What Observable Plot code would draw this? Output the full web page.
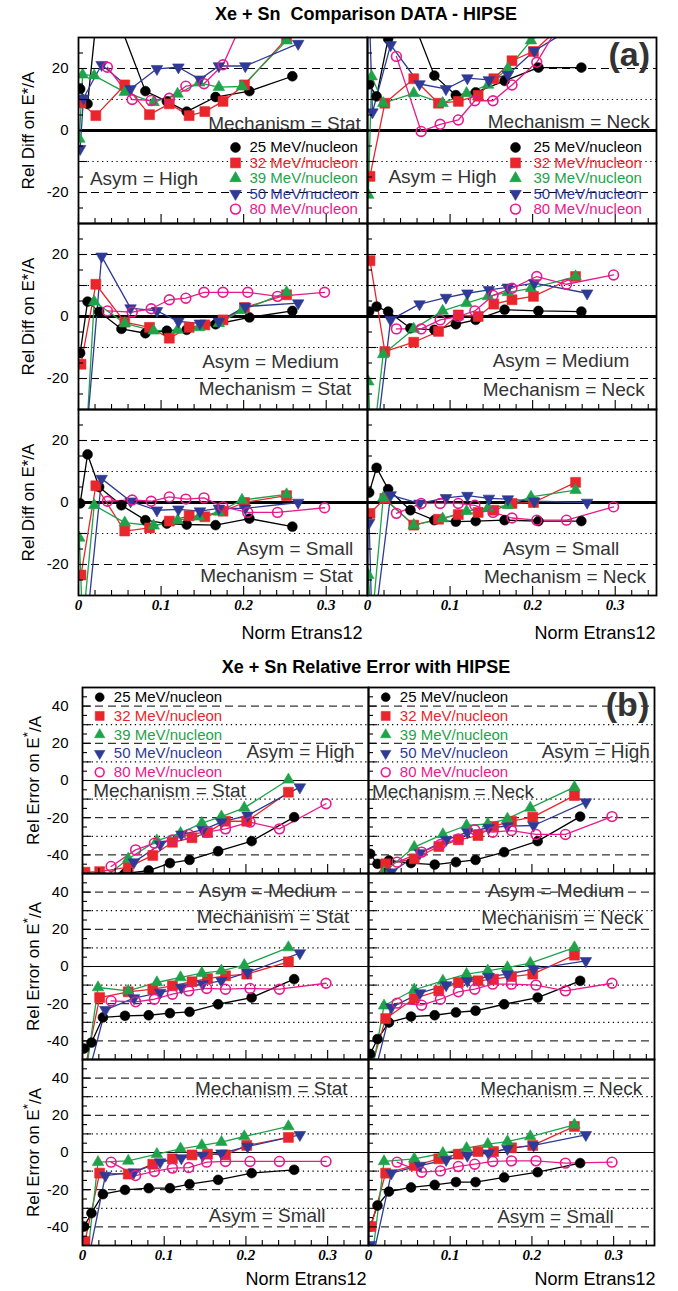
<!DOCTYPE html>
<html><head><meta charset="utf-8">
<script src="https://cdn.jsdelivr.net/npm/d3@7"></script>
<script src="https://cdn.jsdelivr.net/npm/@observablehq/plot@0.6"></script>
<style>
body{margin:0;background:#fff;}
#root{position:relative;width:678px;height:1291px;overflow:hidden;font-family:"Liberation Sans",Arial,sans-serif;background:#fff;}
.title{position:absolute;left:27px;width:678px;text-align:center;font-weight:bold;font-size:18px;color:#000;line-height:20px;white-space:pre;}
.plot{position:absolute;left:0;}
.plot g[aria-label="x-axis tick label"]{font:italic bold 15px "Liberation Serif",serif;}
.plot g[aria-label="y-axis tick label"]{font:15px "Liberation Sans",Arial,sans-serif;}
</style></head><body><div id="root"></div><script>
// ---------------- data ----------------
const energies = ["25 MeV/nucleon","32 MeV/nucleon","39 MeV/nucleon","50 MeV/nucleon","80 MeV/nucleon"];
const mechanisms = ["Stat","Neck"];
const asymmetries = ["High","Medium","Small"];
const xTickLabels = [0, 0.1, 0.2, 0.3];
const yTicksDiff = [-20, 0, 20];
const yTicksErr = [-40, -20, 0, 20, 40];

// mean Norm Etrans12 of each bin, per beam energy
const xE25 = [0.002, 0.011, 0.025, 0.052, 0.081, 0.107, 0.131, 0.166, 0.207, 0.259];
const xE32 = [0.003, 0.021, 0.056, 0.086, 0.110, 0.134, 0.153, 0.175, 0.201, 0.252];
const xE39 = [0.001, 0.005, 0.019, 0.056, 0.091, 0.120, 0.146, 0.170, 0.198, 0.252];
const xE50 = [0.002, 0.006, 0.028, 0.063, 0.095, 0.121, 0.147, 0.170, 0.202, 0.266];
const xE80 = [0.035, 0.065, 0.088, 0.110, 0.130, 0.152, 0.175, 0.205, 0.241, 0.298];

// (a) Rel Diff on E*/A  (rows: 25, 32, 39, 50, 80 MeV/nucleon)
const diffHighStat = [
 [13.4, 8.6, 45, 33, 12.7, 9.4, 6.1, 10.8, 12.7, 17.5],
 [8.9, 4.8, 14.7, 5.1, 8.6, 4.8, 6.1, 9.4, 14.7, 29.7],
 [-2.7, 18, 17.7, 12.4, 9.1, 11.8, 15.4, 14, 14.2, 29],
 [-5.9, 10.4, 21.2, 13.4, 19.9, 20.4, 16.5, 20.8, 20.8, 28],
 [20.4, 10, 9.7, 10.4, 14.3, 15.1, 21.2, 39, 45, 50]];
const diffHighNeck = [
 [14.9, 11, 29.6, 37.5, 17.7, 11.4, 12.3, 16, 20.3, 20.3],
 [-14.8, 8.8, 16.7, 8.8, 9.4, 11.3, 16.7, 22.5, 25.5, 38],
 [-20.8, 17.4, 8.8, 12, 8.8, 12, 14.7, 20, 29, 40],
 [40, 5.9, 27.6, 15, 13.4, 16.9, 16.3, 18, 25.7, 36],
 [23.9, -0.3, 2, 3.4, 9.6, 9.6, 14.7, 22, 38, 45]];
const diffMediumStat = [
 [-11.8, 4.8, 1.5, -4, -5.4, -4.6, -4.3, -2.5, -0.3, 1.8],
 [-15.4, 10.4, -1.8, -3.5, -7, -3.5, -2.7, -1.1, 2.9, 7],
 [-50, -60, 4.8, -2.2, -4.6, -4.3, -3.5, -2.2, 2, 7.8],
 [-60, -50, 19.4, 2.7, 1.8, -1.6, -2.2, -1.6, 3.2, 4.3],
 [1.8, 1.4, 2.5, 5.4, 5.9, 7.8, 7.8, 7.8, 6.5, 7.8]];
const diffMediumNeck = [
 [1.6, 3.2, 1.6, -3.8, -4.3, -2.5, -1.1, 2.2, 1.8, 1.6],
 [18, -11.3, -8.3, -4.8, 0.5, 0, 4, 5.4, 6.5, 12.9],
 [-21, -45, -12.2, -4, 1.8, 4.3, 6.5, 7.8, 9.1, 12.9],
 [-40, -50, -1.1, 4, 6.1, 7.5, 8.6, 9.4, 10.8, 7.5],
 [-4, -4, -1.1, 0, 1.8, 6.8, 9.1, 12.9, 10.4, 13.4]];
const diffSmallStat = [
 [-0.3, 15.5, 5, -0.9, -5.7, -6.8, -7.1, -7.3, -5.2, -7.8],
 [-23.4, 5.4, -9.2, -8.2, -6, -4.3, -4.6, -2.8, 0, 2.2],
 [-11.4, -40, -0.9, -6.5, -7.5, -5.7, -4.6, -3, 0.8, 2.6],
 [-40, -50, 7.7, 0.4, -2.5, -2.2, -2.8, -1.9, -1.9, 0],
 [0.4, 0.8, 0.4, 1.8, 1.1, 1.5, -1.4, -3.2, -3.2, -1.7]];
const diffSmallNeck = [
 [3.2, 11.2, 4.3, -2.5, -5.7, -6.2, -6, -5.7, -6, -6],
 [-3.5, 1.3, -7.3, -5.4, -3.9, -3.2, -2.5, -0.3, 0, 6.5],
 [-23.4, -40, 1.5, -7.3, -5.2, -2.8, -1.7, -0.9, 1.8, 4],
 [-6.5, -45, 2.4, -0.3, 1.5, 2.2, 1.3, 1.1, 0.4, 0],
 [-3.5, -0.3, -0.3, -0.3, -0.9, -3.2, -5, -5.7, -5.7, -1.4]];

// (b) Rel Error on E*/A
const errHighStat = [
 [-60, -58, -52, -50, -48.4, -44.4, -42.7, -38, -32.6, -19.7],
 [-49.3, -49, -46.6, -40.3, -33.2, -30.8, -28, -21.9, -21.9, -6.3],
 [-60, -60, -55, -42.1, -32.3, -28.3, -22.9, -19.4, -14.7, 0.4],
 [-60, -60, -55, -43.9, -34.4, -29, -26.5, -22.4, -18.8, -3.6],
 [-46.2, -37.3, -33.7, -31.9, -29, -27.8, -26, -22.4, -26, -12.5]];
const errHighNeck = [
 [-39.4, -44.8, -43, -44.4, -45.2, -43.9, -42.7, -38.5, -32.6, -19.4],
 [-55, -44.8, -42.1, -35.5, -31.9, -29.6, -24.7, -21.9, -19.7, -8.1],
 [-60, -55, -49.3, -35.8, -29, -24.2, -23.3, -20.6, -14.7, -3.6],
 [-60, -55, -49.3, -39, -31.9, -27.8, -25.4, -24.5, -24.2, -11.6],
 [-43.9, -38.5, -34.4, -31.4, -26.5, -27.8, -26.9, -29, -29, -19.4]];
const errMediumStat = [
 [-44.1, -40.9, -27.4, -26.5, -26.2, -25.1, -24.4, -20.3, -16.7, -6.8],
 [-55, -16.7, -13.6, -12.2, -10.4, -8.2, -6.5, -5, -4.1, 2.5],
 [-60, -55, -11.3, -13.1, -8.6, -5.9, -3.6, -2.3, 0.7, 10.2],
 [-60, -60, -23.3, -17, -14, -11.3, -9.5, -7.7, -3.2, 7.2],
 [-18.5, -19, -17.6, -14.9, -13.1, -11.8, -12.2, -11.8, -12.2, -9]];
const errMediumNeck = [
 [-47, -39, -30.1, -26.9, -26.2, -24.7, -23.8, -20.3, -16.7, -7.7],
 [-55, -28, -17.2, -13.1, -8.6, -7.7, -6.8, -5.4, -4.1, 6.1],
 [-60, -55, -21.1, -12.5, -7.7, -4.1, -2.3, -0.5, 1.8, 10.2],
 [-60, -60, -22, -14.3, -10, -7.7, -5.5, -4.1, -1.4, 3],
 [-19.7, -20.8, -17.6, -13.6, -12.2, -9.5, -9.5, -10, -13.1, -9]];
const errSmallStat = [
 [-39.8, -32.6, -22.4, -20.1, -19.2, -19.2, -17, -14.7, -11.1, -9.3],
 [-47.8, -11.1, -11.6, -6.3, -3.4, -1.3, -0.9, -1.3, 3.8, 8.1],
 [-60, -60, -5.2, -4.5, -0.9, 2, 3.8, 5.6, 8.6, 14],
 [-60, -60, -12.4, -10.6, -5.2, -3, -1.6, -0.4, 3.2, 9.5],
 [-5.2, -12.4, -10.2, -8.4, -8.1, -5.2, -4.8, -4.8, -4.8, -4.8]];
const errSmallNeck = [
 [-39.8, -28.5, -21, -18.8, -17.4, -15.9, -15.9, -13.4, -10.6, -5.7],
 [-39.8, -11.1, -7, -3.4, -0.9, 0.5, 0.5, 2.5, 3.8, 14],
 [-60, -55, -4.8, -3.4, -0.4, 2.3, 4.5, 5.9, 8.6, 14.9],
 [-49.6, -55, -11.1, -7, -3.9, -1.6, -0.4, 2, 3.8, 9.5],
 [-5.2, -10.6, -9.9, -7.5, -6.3, -4.8, -4.5, -4.5, -5.7, -5.2]];

// ---------------- styling ----------------
const W = 678;
const xByEnergy = [xE25, xE32, xE39, xE50, xE80];
const colors = ["#000000", "#e8262b", "#1ea34a", "#2e3a96", "#e8198c"];
const triDown = {draw(ctx, size){const y=Math.sqrt(size/(3*Math.sqrt(3)));ctx.moveTo(0,2*y);ctx.lineTo(-Math.sqrt(3)*y,-y);ctx.lineTo(Math.sqrt(3)*y,-y);ctx.closePath();}};
const symbols = ["circle","square","triangle",triDown,"circle"];
const filled = [true,true,true,true,false];
const radii = [4.9, 5.6, 4.3, 4.3, 4.9];
const textGray = "#333";
const FONT = "Liberation Sans, Arial, sans-serif";

function panelText(mech, asym, text, dx, dy, o = {}) {
  return Plot.text([text], {fx: () => mech, fy: () => asym, frameAnchor: "top-left", dx, dy,
    text: d => d, textAnchor: o.anchor || "middle", lineAnchor: "middle", fontSize: o.size || 19, fontWeight: o.weight || "normal",
    fill: o.fill || textGray, fontFamily: FONT});
}

function buildSection(cfg) {
  const facetW = (W - cfg.ml - cfg.mr) / 2;
  const H = cfg.mt + 3 * cfg.rowH + cfg.mb;
  const [y0, y1] = cfg.yDomain;
  const pxX = facetW / 0.35, pxY = cfg.rowH / (y1 - y0);
  const rows = [];
  cfg.panels.forEach(p => p.values.forEach((ys, i) => ys.forEach((y, j) =>
    rows.push({asym: p.asym, mech: p.mech, e: i, x: xByEnergy[i][j], y}))));
  const marks = [
    Plot.ruleY(cfg.dashed, {stroke: "#000", strokeWidth: 1, strokeDasharray: "8,5"}),
    Plot.ruleY(cfg.dotted, {stroke: "#000", strokeWidth: 1.2, strokeDasharray: "1.3,3.5"}),
    Plot.ruleY([0], {stroke: "#000", strokeWidth: cfg.zeroWidth})
  ];
  energies.forEach((name, i) => {
    const d = rows.filter(r => r.e === i);
    marks.push(Plot.line(d, {x: "x", y: "y", fx: "mech", fy: "asym", stroke: colors[i], strokeWidth: 1.3, clip: true}));
  });
  energies.forEach((name, i) => {
    const d = rows.filter(r => r.e === i);
    marks.push(Plot.dot(d, {x: "x", y: "y", fx: "mech", fy: "asym", symbol: symbols[i], r: radii[i],
      fill: filled[i] ? colors[i] : "none", stroke: colors[i], strokeWidth: filled[i] ? 0.6 : 1.6, clip: true}));
  });
  const xt = d3.range(0, 0.3501, 0.02).map(v => +v.toFixed(2));
  const yt = d3.range(y0 + 5, y1, 5);
  marks.push(
    Plot.frame({stroke: "#000", strokeWidth: 1.8}),
    Plot.ruleX(xt, {x: d => d, y1: () => y0, y2: d => y0 + ((Math.round(d * 100) % 10 === 0) ? 9 : 5) / pxY, stroke: "#000", strokeWidth: 1.1}),
    Plot.ruleY(yt, {y: d => d, x1: () => 0, x2: d => (d % 10 === 0 ? 9 : 5) / pxX, stroke: "#000", strokeWidth: 1.1}),
    Plot.axisY({ticks: cfg.yTicks, tickSize: 0, tickPadding: cfg.yPad, tickFormat: d => String(d), label: null}),
    Plot.axisX({ticks: xTickLabels, tickSize: 0, tickPadding: 4, tickFormat: d => d === 0 ? "0" : d3.format(".1f")(d), label: null}),
    Plot.text(asymmetries, {fy: d => d, fx: () => "Stat", frameAnchor: "top-left", dx: cfg.titleDx, dy: cfg.rowH / 2,
      rotate: -90, textAnchor: "middle", lineAnchor: "middle",
      text: () => cfg.yTitle, fontSize: 17, fill: "#000", fontFamily: FONT})
  );
  cfg.texts.forEach(t => marks.push(panelText(t[0], t[1], t[2], t[3], t[4], t[5])));
  cfg.legends.forEach(L => {
    energies.forEach((name, i) => {
      const dy = L.dy0 + i * L.step;
      marks.push(Plot.dot([name], {fx: () => L.mech, fy: () => L.asym, frameAnchor: "top-left", dx: L.symDx, dy,
        symbol: symbols[i], r: radii[i] * L.scale, fill: filled[i] ? colors[i] : "none", stroke: colors[i], strokeWidth: filled[i] ? 0.6 : 1.6}));
      marks.push(Plot.text([name], {fx: () => L.mech, fy: () => L.asym, frameAnchor: "top-left", dx: L.txtDx, dy,
        text: d => d, textAnchor: "start", lineAnchor: "middle", fontSize: 15, fill: colors[i], fontFamily: FONT}));
    });
  });
  const svg = Plot.plot({
    width: W, height: H,
    marginLeft: cfg.ml, marginRight: cfg.mr, marginTop: cfg.mt, marginBottom: cfg.mb,
    style: {background: "transparent", fontFamily: FONT},
    x: {domain: [0, 0.35], label: null},
    y: {domain: cfg.yDomain, label: null},
    fx: {domain: mechanisms, padding: 0, axis: null},
    fy: {domain: asymmetries, padding: 0, axis: null},
    marks
  });
  svg.classList.add("plot");
  svg.style.position = "absolute";
  svg.style.top = cfg.top + "px";
  svg.style.left = "0px";
  return svg;
}

const root = document.getElementById("root");
function addTitle(text, top) {
  const d = document.createElement("div");
  d.className = "title"; d.textContent = text; d.style.top = top + "px";
  root.appendChild(d);
}

// ---------- section (a) ----------
addTitle("Xe + Sn  Comparison DATA - HIPSE", 4);
const svgA = buildSection({
  top: 30, ml: 78, mr: 22, mt: 7, mb: 55, rowH: 186,
  yDomain: [-30, 30], yTicks: yTicksDiff, yPad: 10, dashed: [-20, 20], dotted: [-10, 10], zeroWidth: 3.2,
  yTitle: "Rel Diff on E*/A", titleDx: -50,
  panels: [
    {asym: "High", mech: "Stat", values: diffHighStat}, {asym: "High", mech: "Neck", values: diffHighNeck},
    {asym: "Medium", mech: "Stat", values: diffMediumStat}, {asym: "Medium", mech: "Neck", values: diffMediumNeck},
    {asym: "Small", mech: "Stat", values: diffSmallStat}, {asym: "Small", mech: "Neck", values: diffSmallNeck}],
  texts: [
    ["Stat", "High", "Mechanism = Stat", 206, 86], ["Stat", "High", "Asym = High", 65.5, 141],
    ["Neck", "High", "Mechanism = Neck", 201.3, 84], ["Neck", "High", "Asym = High", 75, 139],
    ["Neck", "High", "(a)", 261.7, 18, {size: 34, weight: "bold", fill: "#333"}],
    ["Stat", "Medium", "Asym = Medium", 192, 138], ["Stat", "Medium", "Mechanism = Stat", 196.5, 165],
    ["Neck", "Medium", "Asym = Medium", 193.5, 137], ["Neck", "Medium", "Mechanism = Neck", 196.3, 166],
    ["Stat", "Small", "Asym = Small", 216.5, 139], ["Stat", "Small", "Mechanism = Stat", 198, 166],
    ["Neck", "Small", "Asym = Small", 193.5, 139], ["Neck", "Small", "Mechanism = Neck", 197.5, 167.7],
    ["Stat", "Small", "Norm Etrans12", 284, 224, {anchor: "end", size: 18, fill: "#000"}],
    ["Neck", "Small", "Norm Etrans12", 288, 224, {anchor: "end", size: 18, fill: "#000"}]],
  legends: [
    {mech: "Stat", asym: "High", symDx: 157, txtDx: 171, dy0: 110, step: 15.4, scale: 1},
    {mech: "Neck", asym: "High", symDx: 148, txtDx: 166, dy0: 110, step: 15.4, scale: 1}]
});
root.appendChild(svgA);

// ---------- section (b) ----------
addTitle("Xe + Sn Relative Error with HIPSE", 657);
const svgB = buildSection({
  top: 670, ml: 82, mr: 24, mt: 17, mb: 45, rowH: 186,
  yDomain: [-50, 50], yTicks: yTicksErr, yPad: 14, dashed: [-40, -20, 20, 40], dotted: [-30, -10, 10, 30], zeroWidth: 1.2,
  yTitle: "Rel Error on E*/A", titleDx: -49,
  panels: [
    {asym: "High", mech: "Stat", values: errHighStat}, {asym: "High", mech: "Neck", values: errHighNeck},
    {asym: "Medium", mech: "Stat", values: errMediumStat}, {asym: "Medium", mech: "Neck", values: errMediumNeck},
    {asym: "Small", mech: "Stat", values: errSmallStat}, {asym: "Small", mech: "Neck", values: errSmallNeck}],
  texts: [
    ["Stat", "High", "Asym = High", 218, 64.7], ["Stat", "High", "Mechanism = Stat", 87, 103],
    ["Neck", "High", "Asym = High", 227.3, 64.7], ["Neck", "High", "Mechanism = Neck", 84.5, 104.7],
    ["Neck", "High", "(b)", 259, 18, {size: 34, weight: "bold", fill: "#333"}],
    ["Stat", "Medium", "Asym = Medium", 184.7, 17], ["Stat", "Medium", "Mechanism = Stat", 190.5, 43.7],
    ["Neck", "Medium", "Asym = Medium", 187.5, 17], ["Neck", "Medium", "Mechanism = Neck", 193.7, 44.7],
    ["Stat", "Small", "Mechanism = Stat", 188.8, 29.3], ["Stat", "Small", "Asym = Small", 184.7, 156],
    ["Neck", "Small", "Mechanism = Neck", 192.8, 29.3], ["Neck", "Small", "Asym = Small", 187, 157.7],
    ["Stat", "Small", "Norm Etrans12", 284, 220, {anchor: "end", size: 18, fill: "#000"}],
    ["Neck", "Small", "Norm Etrans12", 287, 220, {anchor: "end", size: 18, fill: "#000"}]],
  legends: [
    {mech: "Stat", asym: "High", symDx: 17.2, txtDx: 31.3, dy0: 9.7, step: 18.75, scale: 0.9},
    {mech: "Neck", asym: "High", symDx: 17.2, txtDx: 31.3, dy0: 9.7, step: 18.75, scale: 0.9}]
});
root.appendChild(svgB);

// raise the asterisk of E*/A in section (b)
d3.select(svgB).selectAll("text").filter(function(){return this.textContent === "Rel Error on E*/A";}).each(function(){
  const t = d3.select(this); t.text(null);
  t.append("tspan").text("Rel Error on E");
  t.append("tspan").attr("dy", "-0.5em").attr("font-size", "0.8em").text("*");
  t.append("tspan").attr("dy", "0.5em").text("/A");
});
</script></body></html>
